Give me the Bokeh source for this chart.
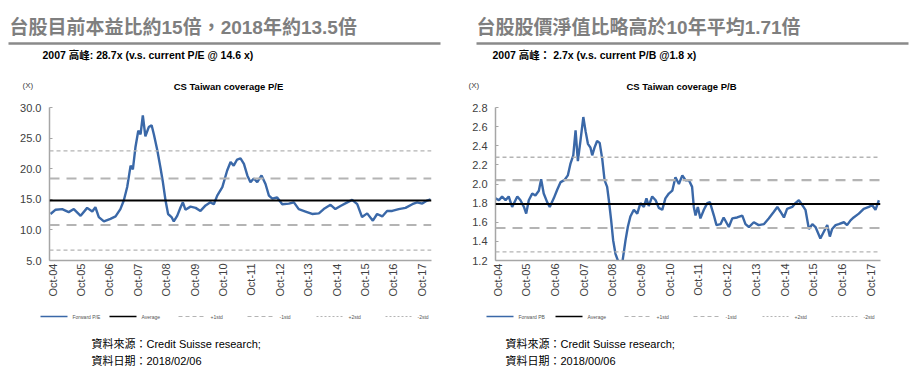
import math
from bokeh.plotting import figure
from bokeh.layouts import column, row
from bokeh.models import Range1d, Span, FixedTicker, NumeralTickFormatter
from bokeh.core.properties import value
from bokeh.embed import file_html
from bokeh.resources import INLINE

FONT = "'Liberation Sans', 'Noto Sans CJK TC', sans-serif"

# ---------------- data ----------------
tick_pos = [2004.75, 2005.75, 2006.75, 2007.75, 2008.75, 2009.75, 2010.75,
            2011.75, 2012.75, 2013.75, 2014.75, 2015.75, 2016.75, 2017.75]
tick_labels = ["Oct-04", "Oct-05", "Oct-06", "Oct-07", "Oct-08", "Oct-09", "Oct-10",
               "Oct-11", "Oct-12", "Oct-13", "Oct-14", "Oct-15", "Oct-16", "Oct-17"]

pe_year = [2004.68, 2004.86, 2005.09, 2005.32, 2005.50, 2005.74, 2005.97, 2006.15, 2006.26, 2006.38,
           2006.56, 2006.79, 2006.97, 2007.14, 2007.26, 2007.38, 2007.50, 2007.58, 2007.67, 2007.77,
           2007.85, 2007.93, 2008.02, 2008.14, 2008.24, 2008.32, 2008.44, 2008.55, 2008.63, 2008.73,
           2008.82, 2008.94, 2009.02, 2009.14, 2009.26, 2009.34, 2009.43, 2009.61, 2009.79, 2009.96,
           2010.14, 2010.31, 2010.43, 2010.55, 2010.73, 2010.90, 2011.02, 2011.13, 2011.25, 2011.37,
           2011.49, 2011.61, 2011.72, 2011.84, 2011.96, 2012.11, 2012.25, 2012.37, 2012.49, 2012.66,
           2012.84, 2013.07, 2013.25, 2013.42, 2013.66, 2013.89, 2014.13, 2014.30, 2014.54, 2014.71,
           2014.89, 2015.13, 2015.30, 2015.48, 2015.65, 2015.83, 2016.03, 2016.18, 2016.36, 2016.53,
           2016.71, 2016.94, 2017.18, 2017.42, 2017.59, 2017.77, 2017.94, 2018.06]
pe_value = [12.6, 13.3, 13.4, 12.9, 13.4, 12.3, 13.6, 13.0, 13.7, 12.1,
            11.4, 11.8, 12.2, 13.4, 14.8, 17.0, 20.5, 19.9, 23.5, 26.2,
            25.6, 28.7, 25.3, 26.8, 27.1, 25.6, 23.0, 20.2, 18.0, 14.8,
            12.6, 12.1, 11.4, 12.3, 13.7, 14.5, 13.3, 13.8, 13.6, 13.1,
            14.0, 14.5, 14.2, 15.6, 17.0, 19.7, 21.1, 20.5, 21.5, 21.7,
            20.8, 18.9, 17.8, 18.4, 17.8, 18.9, 17.5, 15.6, 15.1, 15.3,
            14.2, 14.3, 14.5, 13.4, 13.0, 12.6, 12.7, 13.4, 14.1, 13.4,
            13.9, 14.5, 14.9, 14.2, 12.1, 12.7, 11.5, 12.6, 12.2, 13.1,
            13.1, 13.4, 13.6, 14.2, 14.5, 14.3, 14.8, 15.0]
pe_avg = 14.8
pe_sd1 = [18.4, 10.8]   # +1std, -1std
pe_sd2 = [22.9, 6.7]    # +2std, -2std
pe_ticks = [5, 10, 15, 20, 25, 30]

pb_year = [2004.68, 2004.80, 2004.91, 2005.03, 2005.14, 2005.26, 2005.44, 2005.55, 2005.67, 2005.75,
           2005.84, 2005.96, 2006.07, 2006.19, 2006.27, 2006.36, 2006.48, 2006.57, 2006.71, 2006.83,
           2006.95, 2007.08, 2007.20, 2007.29, 2007.39, 2007.47, 2007.55, 2007.64, 2007.74, 2007.82,
           2007.90, 2007.99, 2008.05, 2008.13, 2008.22, 2008.31, 2008.40, 2008.48, 2008.57, 2008.63,
           2008.71, 2008.78, 2008.86, 2008.98, 2009.09, 2009.21, 2009.29, 2009.38, 2009.50, 2009.62,
           2009.73, 2009.85, 2009.94, 2010.02, 2010.14, 2010.26, 2010.37, 2010.49, 2010.60, 2010.72,
           2010.84, 2010.95, 2011.07, 2011.19, 2011.30,
           2011.42, 2011.53, 2011.59, 2011.65, 2011.73, 2011.82, 2011.94, 2012.06, 2012.15, 2012.29,
           2012.38, 2012.52, 2012.63, 2012.81, 2012.93, 2013.10, 2013.28, 2013.39, 2013.51, 2013.68,
           2013.85, 2014.03, 2014.20, 2014.38, 2014.50, 2014.61, 2014.73, 2014.84, 2015.02, 2015.13,
           2015.25, 2015.37, 2015.48, 2015.60, 2015.72, 2015.83, 2016.00, 2016.12, 2016.24, 2016.33,
           2016.41, 2016.53, 2016.64, 2016.82, 2016.93, 2017.05, 2017.16, 2017.34, 2017.51, 2017.69,
           2017.80, 2017.92, 2018.04]
pb_value = [1.85, 1.83, 1.87, 1.83, 1.87, 1.76, 1.87, 1.83, 1.76, 1.69,
            1.83, 1.90, 1.88, 1.93, 2.05, 1.90, 1.81, 1.76, 1.85, 1.94,
            2.02, 2.04, 2.09, 2.21, 2.30, 2.56, 2.24, 2.45, 2.70, 2.55,
            2.42, 2.38, 2.30, 2.38, 2.45, 2.43, 2.26, 2.04, 1.97, 1.83,
            1.62, 1.41, 1.27, 1.17, 1.16, 1.41, 1.55, 1.66, 1.73, 1.69,
            1.80, 1.76, 1.85, 1.77, 1.87, 1.83, 1.75, 1.73, 1.85, 1.90,
            1.93, 2.07, 2.00, 2.09, 2.04,
            2.04, 1.97, 1.76, 1.67, 1.76, 1.64, 1.73, 1.80, 1.81, 1.67,
            1.57, 1.58, 1.65, 1.55, 1.64, 1.65, 1.67, 1.58, 1.55, 1.60,
            1.57, 1.58, 1.64, 1.71, 1.76, 1.71, 1.65, 1.74, 1.76, 1.80,
            1.83, 1.78, 1.73, 1.53, 1.58, 1.55, 1.43, 1.50, 1.57, 1.45,
            1.53, 1.57, 1.58, 1.60, 1.57, 1.62, 1.65, 1.69, 1.74, 1.76,
            1.78, 1.73, 1.83]
pb_avg = 1.79
pb_sd1 = [2.04, 1.54]
pb_sd2 = [2.28, 1.29]
pb_ticks = [1.2, 1.4, 1.6, 1.8, 2.0, 2.2, 2.4, 2.6, 2.8]

titles = ["台股目前本益比約15倍，2018年約13.5倍", "台股股價淨值比略高於10年平均1.71倍"]
subtitles = ["2007 高峰: 28.7x (v.s. current P/E @ 14.6 x)", "2007 高峰： 2.7x (v.s. current P/B @1.8 x)"]
chart_titles = ["CS Taiwan coverage P/E", "CS Taiwan coverage P/B"]
legend_pe = ["Forward P/E", "Average", "+1std", "-1std", "+2std", "-2std"]
legend_pb = ["Forward PB", "Average", "+1std", "-1std", "+2std", "-2std"]
source_lines = [["資料來源：Credit Suisse research;", "資料日期：2018/02/06"],
                ["資料來源：Credit Suisse research;", "資料日期：2018/00/06"]]

BLUE = "#3a68a8"
GRAY_DASH = "#b4b4b4"

# ---------------- header ----------------
W = 915
HH = 99
hdr = figure(width=W, height=HH, x_range=Range1d(0, W), y_range=Range1d(HH, 0),
             output_backend="svg", toolbar_location=None, min_border=0,
             x_axis_location=None, y_axis_location=None)
hdr.grid.visible = False
hdr.outline_line_color = None
hdr.text(x=[9, 476], y=[27, 27], text=titles, text_font=value(FONT), text_font_size="19px",
         text_font_style="bold", text_color="#7f7f7f", text_baseline="middle")
hdr.segment(x0=[8, 476], y0=[43, 43], x1=[440, 908], y1=[43, 43], line_color="#8a8a8a", line_width=2.5)
hdr.text(x=[42, 492], y=[54, 54], text=subtitles, text_font=value(FONT), text_font_size="10.5px",
         text_font_style="bold", text_color="#000000", text_baseline="middle")
hdr.text(x=[22, 468], y=[85, 85], text=["(X)", "(X)"], text_font=value(FONT), text_font_size="8px",
         text_color="#404040", text_baseline="middle")
hdr.text(x=[228, 681], y=[86, 86], text=chart_titles, text_font=value(FONT), text_font_size="9.5px",
         text_font_style="bold", text_color="#000000", text_baseline="middle", text_align="center")


# ---------------- charts ----------------
def make_chart(xs, ys, avg, sd1, sd2, y0, y1, yticks, width, bl, br, x0, x1):
    p = figure(width=width, height=201, x_range=Range1d(x0, x1), y_range=Range1d(y0, y1),
               output_backend="svg", toolbar_location=None,
               min_border_left=bl, min_border_right=br, min_border_top=8, min_border_bottom=40)
    p.outline_line_color = None
    p.grid.visible = False
    p.line(xs, ys, line_color=BLUE, line_width=2.4)
    for v in sd2:
        p.add_layout(Span(location=v, dimension="width", line_color=GRAY_DASH,
                          line_width=1.3, line_dash="4 3"))
    for v in sd1:
        p.add_layout(Span(location=v, dimension="width", line_color=GRAY_DASH,
                          line_width=2.2, line_dash="10 7"))
    p.add_layout(Span(location=avg, dimension="width", line_color="#000000", line_width=2))

    p.xaxis.ticker = FixedTicker(ticks=tick_pos)
    p.xaxis.major_label_overrides = {t: l for t, l in zip(tick_pos, tick_labels)}
    p.xaxis.major_label_orientation = math.pi / 2
    p.xaxis.major_label_standoff = 3
    p.xaxis.major_tick_in = 0
    p.xaxis.major_tick_out = 0
    p.xaxis.minor_tick_line_color = None

    p.yaxis.ticker = FixedTicker(ticks=yticks)
    p.yaxis.formatter = NumeralTickFormatter(format="0.0")
    p.yaxis.major_tick_in = 3
    p.yaxis.major_tick_out = 0
    p.yaxis.minor_tick_line_color = None
    p.yaxis.major_label_standoff = 8
    for ax in (p.xaxis, p.yaxis):
        ax.axis_line_color = "#a6a6a6"
        ax.axis_line_width = 1.5
        ax.major_tick_line_color = "#a6a6a6"
        ax.major_label_text_font = FONT
        ax.major_label_text_font_size = "11px"
        ax.major_label_text_color = "#404040"
    return p


left = make_chart(pe_year, pe_value, pe_avg, pe_sd1, pe_sd2, 5, 30, pe_ticks,
                  457, 49, 26, 2004.644, 2018.095)
right = make_chart(pb_year, pb_value, pb_avg, pb_sd1, pb_sd2, 1.2, 2.8, pb_ticks,
                   458, 38, 35, 2004.68, 2018.095)

# ---------------- footer ----------------
FH = 83
ftr = figure(width=W, height=FH, x_range=Range1d(0, W), y_range=Range1d(FH, 0),
             output_backend="svg", toolbar_location=None, min_border=0,
             x_axis_location=None, y_axis_location=None)
ftr.grid.visible = False
ftr.outline_line_color = None

leg_colors = [BLUE, "#000000", GRAY_DASH, GRAY_DASH, GRAY_DASH, GRAY_DASH]
leg_widths = [1.5, 1.5, 1, 1, 1, 1]
leg_dashes = ["solid", "solid", "4 3", "4 3", "2 2", "2 2"]
for start, labels in ((40, legend_pe), (486, legend_pb)):
    for i, lab in enumerate(labels):
        x = start + i * 69
        ftr.line([x, x + 27], [16, 16], line_color=leg_colors[i], line_width=leg_widths[i],
                 line_dash=leg_dashes[i])
        ftr.text(x=[x + 32], y=[16], text=[lab], text_font=value(FONT), text_font_size="5px",
                 text_color="#555555", text_baseline="middle")

for sx, lines in zip((91, 505), source_lines):
    ftr.text(x=[sx, sx], y=[43, 60], text=lines, text_font=value(FONT), text_font_size="11px",
             text_color="#000000", text_baseline="middle")

layout = column(hdr, row(left, right), ftr)

with open("out.html", "w") as f:
    f.write(file_html(layout, INLINE))
